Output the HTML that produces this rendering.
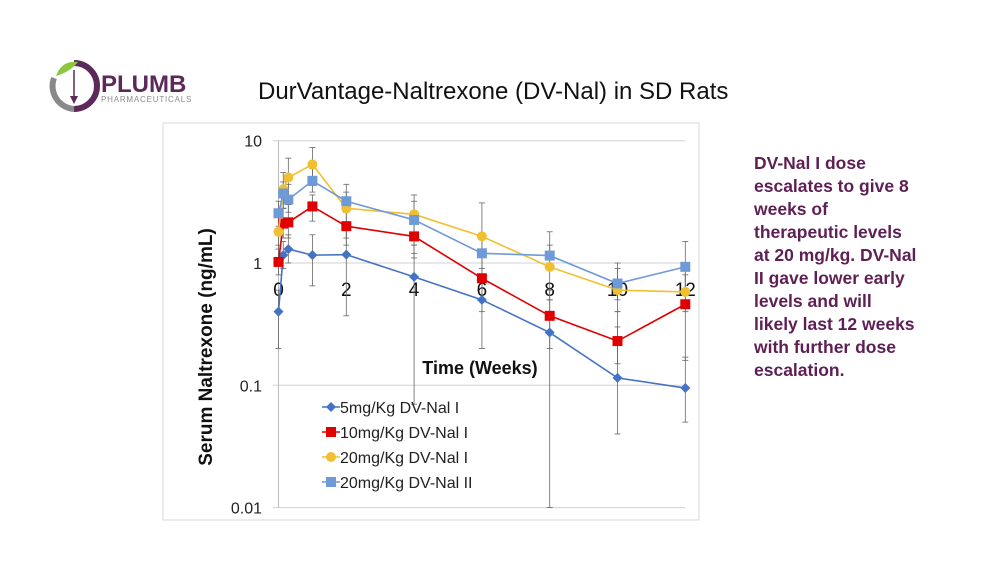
<!DOCTYPE html>
<html><head><meta charset="utf-8"><style>
body{margin:0;background:#fff;width:1000px;height:563px;overflow:hidden;position:relative;font-family:"Liberation Sans",sans-serif}
.abs{position:absolute}
#title{left:258px;top:78px;font-size:24px;color:#111}
#note{left:754px;top:152px;width:230px;font-size:17.5px;font-weight:bold;color:#5e1f55;line-height:23px;white-space:nowrap}
</style></head><body>
<div class="abs" style="left:48px;top:58px;width:160px;height:56px">
<svg width="160" height="56">
<path d="M26 5 A23 23 0 0 1 26 51" fill="none" stroke="#5b2a5a" stroke-width="6"/>
<path d="M26 51 A23 23 0 0 1 6 20" fill="none" stroke="#8a8a8a" stroke-width="6"/>
<path d="M8 18 Q14 2 30 4 Q22 14 8 18Z" fill="#8dc63f"/>
<line x1="26" y1="12" x2="26" y2="42" stroke="#5b2a5a" stroke-width="1.5"/>
<path d="M22 38 L30 38 L26 46Z" fill="#5b2a5a"/>
<text x="53" y="34" font-family="Liberation Sans" font-weight="bold" font-size="24" fill="#5b2a5a">PLUMB</text>
<text x="53" y="44" font-family="Liberation Sans" font-size="8" fill="#8a8a8a" letter-spacing="0.8">PHARMACEUTICALS</text>
</svg></div>
<div id="title" class="abs">DurVantage-Naltrexone (DV-Nal) in SD Rats</div>
<div id="note" class="abs">DV-Nal I dose<br>escalates to give 8<br>weeks of<br>therapeutic levels<br>at 20 mg/kg. DV-Nal<br>II gave lower early<br>levels and will<br>likely last 12 weeks<br>with further dose<br>escalation.</div>
<svg id="chart" class="abs" style="left:0;top:0" width="1000" height="563"></svg>
<script>
const times=[0,0.14,0.29,1,2,4,6,8,10,12];
const names=["5mg/Kg DV-Nal I","10mg/Kg DV-Nal I","20mg/Kg DV-Nal I","20mg/Kg DV-Nal II"];
const s5=[0.40,1.16,1.3,1.16,1.17,0.77,0.50,0.27,0.115,0.095];
const s10=[1.02,2.1,2.15,2.9,2.0,1.65,0.75,0.37,0.23,0.46];
const s20=[1.8,4.0,5.0,6.4,2.8,2.5,1.65,0.93,0.6,0.58];
const s20b=[2.55,3.7,3.3,4.7,3.2,2.25,1.2,1.15,0.68,0.93];
const hi5=[0.6,1.5,1.7,1.7,1.9,1.4,0.8,0.5,0.3,0.17];
const lo5=[0.2,0.9,1.0,0.65,0.37,0.07,0.2,0.01,0.04,0.05];
const hi10=[1.4,2.8,3.0,3.6,2.6,2.3,1.2,0.6,0.4,0.9];
const lo10=[0.8,1.6,1.6,2.2,1.4,1.1,0.4,0.2,0.15,0.16];
const hi20=[2.4,5.5,7.2,8.8,4.4,3.6,3.1,1.8,1.0,0.8];
const lo20=[1.3,2.8,3.3,4.3,1.6,1.2,0.8,0.5,0.4,0.4];
const hi20b=[3.2,4.6,4.4,5.9,3.8,3.2,1.6,1.4,0.9,1.5];
const lo20b=[2.0,2.8,2.6,3.8,2.6,1.4,0.9,0.9,0.5,0.6];
const yTicks=[10,1,0.1,0.01];
const yTickLabels=["10","1","0.1","0.01"];
const xTicks=[0,2,4,6,8,10,12];

const svg=document.getElementById('chart');
const NS='http://www.w3.org/2000/svg';
const X=t=>278.5+t*33.9;
const Y=v=>263-Math.log10(v)*122.3;
function el(tag,attrs,parent){const e=document.createElementNS(NS,tag);for(const k in attrs)e.setAttribute(k,attrs[k]);(parent||svg).appendChild(e);return e;}
const frame=el('rect',{x:163,y:123,width:536,height:397,fill:'none',stroke:'#d9d9d9'});


yTicks.forEach((v,i)=>{
 const g=el('line',{x1:273,x2:685,y1:Y(v),y2:Y(v),stroke:'#d0d0d0'});
 
 
 const t=el('text',{x:262,y:Y(v)+6,'text-anchor':'end','font-size':16,'font-family':'Liberation Sans',fill:'#222'});
 t.textContent=yTickLabels[i];
 
 
});
const ax=el('line',{x1:278.5,x2:278.5,y1:Y(10),y2:Y(0.01),stroke:'#bbb'});


xTicks.forEach(v=>{
 const t=el('text',{x:X(v),y:Y(1)+33,'text-anchor':'middle','font-size':19,'font-family':'Liberation Sans',fill:'#111'});
 t.textContent=v;
 
 
});
const xt=el('text',{x:480,y:374,'text-anchor':'middle','font-size':18,'font-weight':'bold','font-family':'Liberation Sans',fill:'#111'});
xt.textContent='Time (Weeks)';


const yt=el('text',{x:0,y:0,transform:'translate(212,347) rotate(-90)','text-anchor':'middle','font-size':19,'font-weight':'bold','font-family':'Liberation Sans',fill:'#111'});
yt.textContent='Serum Naltrexone (ng/mL)';



const series=[s5,s10,s20,s20b],his=[hi5,hi10,hi20,hi20b],los=[lo5,lo10,lo20,lo20b];
const colors=['#4472c4','#e00000','#f0c030','#6f9ad8'];
const shapes=['diamond','square','circle','square'];
function marker(shape,x,y,c,parent){
 if(shape==='diamond')return el('path',{d:`M${x} ${y-5}L${x+5} ${y}L${x} ${y+5}L${x-5} ${y}Z`,fill:c},parent);
 if(shape==='circle')return el('circle',{cx:x,cy:y,r:5,fill:c},parent);
 return el('rect',{x:x-5,y:y-5,width:10,height:10,fill:c},parent);
}
series.forEach((s,k)=>{
 s.forEach((v,i)=>{
  const e=el('line',{x1:X(times[i]),x2:X(times[i]),y1:Y(his[k][i]),y2:Y(los[k][i]),stroke:'#666','stroke-width':0.8});
  
  
  [his[k][i],los[k][i]].forEach(w=>{el('line',{x1:X(times[i])-3,x2:X(times[i])+3,y1:Y(w),y2:Y(w),stroke:'#666','stroke-width':0.8});});
 });
});
series.forEach((s,k)=>{
 const pl=el('polyline',{points:s.map((v,i)=>X(times[i])+','+Y(v)).join(' '),fill:'none',stroke:colors[k],'stroke-width':1.6});
 
 
 s.forEach((v,i)=>{
  const m=marker(shapes[k],X(times[i]),Y(v),colors[k]);
  
  
 });
});
names.forEach((n,k)=>{
 const y=407+k*25;
 const g=el('g',{});
 
 
 el('line',{x1:322,x2:340,y1:y,y2:y,stroke:colors[k],'stroke-width':1.6},g);
 marker(shapes[k],331,y,colors[k],g);
 const t=el('text',{x:340,y:y+6,'font-size':16,'font-family':'Liberation Sans',fill:'#222'},g);
 t.textContent=n;
});
</script>
</body></html>
